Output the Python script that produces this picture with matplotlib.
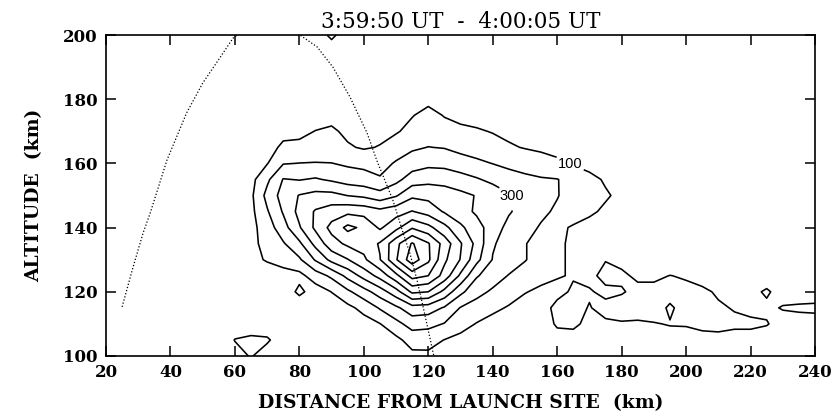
import numpy as np
import matplotlib
matplotlib.use("Agg")
import matplotlib.pyplot as plt

# ----------------------------
# Values
# ----------------------------
# intensity on a 5 km grid, in units of 100 (1.0 -> the "100" contour)
grid_dist = np.arange(20, 245, 5)   # distance from launch site (km)
grid_alt = np.arange(100, 205, 5)   # altitude (km)
core_dist0 = 60                     # rows below start at 60 km, end at 240 km

row_100 = [0.5, 1.1, 0.3, 0, 0, 0, 0, 0, 0, 0.1, 0.4, 0.75, 0.8, 0.6, 0.3, 0.1,
           0, 0, 0, 0, 0, 0, 0, 0, 0, 0, 0, 0, 0, 0, 0, 0, 0, 0, 0, 0, 0]
row_105 = [1.05, 1.3, 1.2, 0.2, 0, 0, 0, 0.05, 0.15, 0.4, 0.75, 1.4, 1.35, 0.98, 0.7, 0.5,
           0.3, 0.2, 0.3, 0.5, 0.7, 0.7, 0.5, 0.5, 0.5, 0.55, 0.6, 0.65, 0.75, 0.8, 0.8,
           0.7, 0.7, 0.6, 0.5, 0.4, 0.4]
row_110 = [0.2, 0.2, 0.1, 0, 0, 0.05, 0.1, 0.3, 0.6, 0.97, 1.7, 2.4, 2.3, 1.95, 1.4, 0.95,
           0.6, 0.4, 0.4, 0.6, 1.1, 1.15, 0.8, 0.85, 0.9, 0.85, 0.95, 1.05, 1.05, 1.15, 1.2,
           1.15, 1.15, 1.05, 0.7, 0.6, 0.6]
row_115 = [0.1, 0.1, 0.1, 0.1, 0.2, 0.35, 0.5, 0.75, 1.3, 2.1, 2.8, 3.6, 3.5, 2.9, 1.95, 1.6,
           1.25, 0.9, 0.6, 0.7, 1.2, 1.3, 0.95, 1.3, 1.5, 1.5, 1.45, 0.85, 1.4, 1.3, 1.1,
           0.95, 0.8, 0.85, 1.05, 1.15, 1.2]
row_120 = [0.1, 0.2, 0.2, 0.3, 1.25, 0.5, 1.02, 1.8, 2.6, 3.5, 4.6, 6.2, 6.0, 4.7, 3.25, 2.3,
           1.85, 1.5, 1.05, 0.8, 0.8, 1.1, 1.1, 0.75, 0.9, 1.3, 1.3, 1.4, 1.25, 1.15, 0.9,
           0.7, 0.8, 1.1, 0.7, 0.5, 0.5]
row_125 = [0.15, 0.3, 0.4, 0.6, 0.7, 1.5, 2.2, 3.3, 4.35, 5.35, 6.7, 8.4, 8.0, 6.6, 4.8, 3.1,
           2.45, 1.95, 1.6, 1.3, 1.05, 0.95, 0.7, 1.35, 1.2, 0.8, 0.8, 1.02, 0.9, 0.7, 0.5,
           0.4, 0.5, 0.6, 0.4, 0.3, 0.3]
row_130 = [0.2, 0.7, 1.1, 1.4, 1.85, 3.1, 4.3, 4.95, 5.8, 6.95, 8.9, 10.6, 9.2, 7.2, 5.95, 4.3,
           2.95, 2.5, 2.05, 1.6, 1.1, 0.9, 0.6, 0.95, 0.7, 0.4, 0.3, 0.3, 0.2, 0.1, 0.1,
           0.1, 0.1, 0.1, 0.1, 0.1, 0.1]
row_135 = [0.2, 0.75, 1.3, 1.9, 2.8, 4.3, 5.6, 6.2, 6.4, 7.1, 8.7, 10.1, 9.1, 7.6, 6.1, 4.7,
           3.1, 2.6, 2.05, 1.6, 1.1, 0.9, 0.6, 0.4, 0.3, 0.2, 0.1, 0, 0, 0, 0,
           0, 0, 0, 0, 0, 0]
row_140 = [0.2, 0.7, 1.5, 2.6, 3.9, 5.2, 6.3, 7.25, 6.8, 5.85, 6.7, 7.9, 7.3, 6.3, 5.2, 4.4,
           3.5, 2.7, 2.35, 1.9, 1.2, 0.9, 0.7, 0.5, 0.3, 0.2, 0.1, 0, 0, 0, 0,
           0, 0, 0, 0, 0, 0]
row_145 = [0.2, 0.75, 1.9, 3.1, 4.3, 5.1, 5.5, 5.75, 5.65, 5.3, 5.6, 6.05, 5.6, 4.9, 4.4, 3.85,
           3.4, 3.1, 2.6, 2.2, 1.85, 1.45, 1.15, 0.85, 0.6, 0.4, 0.2, 0, 0, 0, 0,
           0, 0, 0, 0, 0, 0]
row_150 = [0.2, 0.8, 2.3, 3.4, 4.05, 4.3, 4.3, 3.98, 3.8, 3.4, 3.9, 4.8, 4.7, 4.5, 4.25, 3.95,
           3.6, 3.1, 2.6, 2.3, 2.05, 1.6, 1.3, 1.1, 0.8, 0.5, 0.3, 0.1, 0, 0, 0,
           0, 0, 0, 0, 0, 0]
row_155 = [0.2, 0.7, 1.8, 3.05, 2.95, 3.1, 2.85, 2.55, 2.4, 2.1, 2.7, 3.5, 3.7, 3.65, 3.4, 3.1,
           2.75, 2.45, 2.25, 2.1, 2.03, 1.7, 1.25, 0.9, 0.6, 0.4, 0.2, 0.1, 0, 0, 0,
           0, 0, 0, 0, 0, 0]
row_160 = [0.25, 0.6, 0.95, 1.95, 2.02, 2.05, 2.02, 1.85, 1.75, 1.65, 2.1, 2.5, 2.75, 2.7, 2.45, 2.2,
           1.98, 1.75, 1.55, 1.35, 1.15, 0.9, 0.7, 0.5, 0.4, 0.3, 0.15, 0.05, 0, 0, 0,
           0, 0, 0, 0, 0, 0]
row_165 = [0.2, 0.5, 0.8, 1.1, 1.2, 1.35, 1.4, 1.1, 0.9, 1.05, 1.5, 1.85, 2.02, 1.95, 1.7, 1.55,
           1.35, 1.1, 0.95, 0.85, 0.75, 0.65, 0.55, 0.45, 0.35, 0.25, 0.1, 0, 0, 0, 0,
           0, 0, 0, 0, 0, 0]
row_170 = [0.1, 0.3, 0.6, 0.85, 0.8, 1.02, 1.15, 0.8, 0.6, 0.75, 0.9, 1.3, 1.55, 1.35, 1.2, 1.1,
           0.95, 0.8, 0.65, 0.55, 0.5, 0.4, 0.3, 0.25, 0.2, 0.1, 0, 0, 0, 0, 0,
           0, 0, 0, 0, 0, 0]
row_175 = [0, 0.1, 0.25, 0.4, 0.5, 0.65, 0.7, 0.55, 0.45, 0.5, 0.65, 0.95, 1.3, 0.95, 0.75, 0.65,
           0.55, 0.45, 0.35, 0.3, 0.25, 0.2, 0.15, 0.1, 0, 0, 0, 0, 0, 0, 0,
           0, 0, 0, 0, 0, 0]
row_180 = [0, 0, 0, 0.1, 0.2, 0.3, 0.3, 0.2, 0.2, 0.3, 0.4, 0.6, 0.75, 0.6, 0.45, 0.35,
           0.25, 0.2, 0.1, 0, 0, 0, 0, 0, 0, 0, 0, 0, 0, 0, 0,
           0, 0, 0, 0, 0, 0]

# small patch touching the top edge
patch_dist = [90]
patch_alt = [200]
patch_val = [1.4]

levels = [100, 200, 300, 400, 500, 600, 700, 800, 900, 1000]
label_spots = [(164, 160), (150, 151)]   # "100" and "300" labels

# rocket trajectory (dotted); the apex is above the frame
traj_dist = [25, 28.4, 31.5, 33.7, 38.9, 45, 50, 55.4, 59.4, 64, 70, 76,
             80.2, 85.5, 90.4, 95.7, 101, 104, 109, 112.2, 114.3, 116.5,
             118.4, 120, 121.5, 122]
traj_alt = [115.3, 127.7, 138.3, 144.5, 161, 175.7, 185, 193, 199, 202.5, 204, 202,
            200, 196.3, 190, 180.7, 169.5, 161, 148.6, 138.3, 132, 123.7,
            115.3, 108, 101, 99]


# ----------------------------
# Assemble the field
# ----------------------------
core = np.array([row_100, row_105, row_110, row_115, row_120, row_125, row_130,
                 row_135, row_140, row_145, row_150, row_155, row_160, row_165,
                 row_170, row_175, row_180])
Z = np.zeros((len(grid_alt), len(grid_dist)))
i0 = int(np.searchsorted(grid_dist, core_dist0))
Z[:core.shape[0], i0:i0 + core.shape[1]] = core
for d, a, v in zip(patch_dist, patch_alt, patch_val):
    Z[np.searchsorted(grid_alt, a), np.searchsorted(grid_dist, d)] = v
Z = Z * 100.0


# ----------------------------
# Plot
# ----------------------------
serif = "DejaVu Serif"
fig = plt.figure(figsize=(8.36, 4.17), dpi=100)
ax = fig.add_axes([106 / 836, 1 - 356 / 417, 709 / 836, 321 / 417])

cs = ax.contour(grid_dist, grid_alt, Z, levels=levels, colors="black",
                linewidths=1.15)
texts = ax.clabel(cs, manual=label_spots, inline=True,
                  inline_spacing=1, fmt="%d", fontsize=10.5)
for t in texts:
    t.set_rotation(0)
    t.set_family("Liberation Sans")

ax.plot(traj_dist, traj_alt, color="black", lw=0.9, ls=(0, (1, 1.6)))

ax.set_xlim(20, 240)
ax.set_ylim(100, 200)
ax.set_xticks(range(20, 241, 20))
ax.set_yticks(range(100, 201, 20))
ax.tick_params(direction="in", length=7, width=1.1, top=True, right=True,
               labelsize=12, pad=6)
for lab in ax.get_xticklabels() + ax.get_yticklabels():
    lab.set_family(serif)
    lab.set_fontweight("bold")
for s in ax.spines.values():
    s.set_linewidth(1.2)

ax.set_xlabel("DISTANCE FROM LAUNCH SITE  (km)", family=serif,
              fontweight="bold", fontsize=13.5, labelpad=9)
ax.set_ylabel("ALTITUDE  (km)", family=serif, fontweight="bold",
              fontsize=13.5, labelpad=14)
ax.set_title("3:59:50 UT  -  4:00:05 UT", family=serif, fontsize=15.5, pad=5)

fig.savefig("out.png", dpi=100)
